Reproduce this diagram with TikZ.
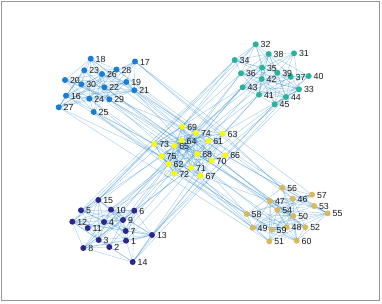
\documentclass[tikz,border=0pt]{standalone}
\usepackage{fontspec}
\setmainfont{Liberation Sans}
\definecolor{c0}{RGB}{46,38,140}
\definecolor{c1}{RGB}{25,125,215}
\definecolor{c2}{RGB}{40,180,155}
\definecolor{c3}{RGB}{218,185,90}
\definecolor{c4}{RGB}{250,250,15}
\definecolor{edgec}{RGB}{30,130,205}
\definecolor{framec}{RGB}{150,150,150}
\tikzset{
  edge/.style={draw=edgec, draw opacity=0.38, line width=0.45pt},
  dot/.style={circle, inner sep=0pt, minimum size=6pt, draw=none},
  lab/.style={anchor=west, inner sep=0pt, font=\fontsize{8.8}{10}\selectfont, text=black!90}
}
\def\nodelist{1/126/240.7, 2/109.3/247, 3/98.7/240, 4/104/222, 5/81/210.3, 6/134.3/210.7,
7/125.7/231, 8/83.3/248, 9/123/220, 10/111/209.7, 11/87.7/228, 12/72.3/221.7, 13/152/235,
14/132.7/262, 15/98.3/200,
16/66/95.7, 17/135/61.5, 18/90.7/58.7, 19/126.3/82, 20/65/80, 21/134.3/90.3, 22/104.3/87.3,
23/84.3/70.3, 24/89.3/98.7, 25/93.7/112, 26/102/74, 27/58.7/107.3, 28/116.5/69.5,
29/109.3/99.3, 30/81.3/84.3,
31/294/53.3, 32/255.7/44.3, 33/299/89.3, 34/234.7/60, 35/262/67.7, 36/241/73.3,
37/290.7/76.7, 38/268.7/54, 39/277.3/72.7, 40/308.7/76, 41/259/94.7, 42/261.7/79,
43/242.7/87.3, 44/286/97, 45/274.7/104.3,
46/292.7/198.7, 47/270/201, 48/286.7/227.3, 49/252.7/227.7, 50/293.3/216, 51/269.3/241.3,
52/305.3/227.3, 53/314/206, 54/277.3/210, 55/327.7/213.3, 56/282.3/187.7, 57/312/194.7,
58/246.7/214, 59/271.7/229.7, 60/296.7/240.7,
61/208.3/141, 62/168.7/164, 63/222.7/133.7, 64/181.7/140.7, 65/174.3/145.7, 66/225.3/155.3,
67/200.7/175.7, 68/197.3/154.3, 69/182.3/126.7, 70/211.7/160.7, 71/191/167.7, 72/174.3/173.7,
73/154.3/144, 74/196/133, 75/161.7/156.3}
\begin{document}
\begin{tikzpicture}[x=1pt,y=-1pt]
\useasboundingbox (0,0) rectangle (382,303);
\fill[white] (0,0) rectangle (382,303);
\draw[framec, line width=1.2pt] (1.5,1.5) rectangle (379.5,300.5);
% positions
\foreach \i/\x/\y in \nodelist { \coordinate (n\i) at (\x,\y); }
% intra-cluster edges
\pgfmathsetseed{11}
\foreach \c in {0,...,4} {
  \foreach \i in {1,...,14} {
    \pgfmathtruncatemacro\ip{\i+1}
    \foreach \j in {\ip,...,15} {
      \pgfmathtruncatemacro\a{15*\c+\i}
      \pgfmathtruncatemacro\b{15*\c+\j}
      \pgfmathtruncatemacro\r{rnd<0.56}
      \ifnum\r=1 \draw[edge] (n\a) -- (n\b); \fi
    }
  }
}
% inter-cluster edges
\foreach \a/\b in {17/56, 17/57, 21/47, 19/58, 29/49, 25/58, 22/54, 24/59, 28/46, 26/50,
  21/55, 29/47, 25/49, 27/51, 16/58, 30/48, 23/60, 18/52,
  17/63, 21/66, 19/61, 25/73, 27/75, 29/65, 24/62, 16/73, 22/68, 30/64, 20/69, 28/74,
  15/34, 6/43, 13/45, 10/41, 9/36, 13/33, 7/42, 1/41, 6/45, 5/34, 12/32, 14/44, 15/36, 4/43, 8/35,
  11/39, 2/38,
  15/73, 6/62, 13/67, 10/72, 14/70, 5/75, 9/71, 12/65, 14/63, 3/64,
  34/69, 43/73, 45/66, 41/63, 36/74, 44/70, 32/69, 33/61, 42/65,
  56/66, 47/67, 58/72, 49/62, 54/70, 46/63, 51/71, 55/66, 50/68} {
  \draw[edge] (n\a) -- (n\b);
}
% self loop on 72
\draw[edge] ([xshift=-6.5pt]n72) circle (3.2pt);
% dots and labels
\foreach \i/\x/\y in \nodelist {
  \pgfmathtruncatemacro\cl{floor((\i-1)/15)}
  \node[dot, fill=c\cl] (d\i) at (n\i) {};
  \node[lab] (l\i) at ([xshift=4.8pt,yshift=-0.5pt]n\i) {\i};
}
\end{tikzpicture}
\end{document}
